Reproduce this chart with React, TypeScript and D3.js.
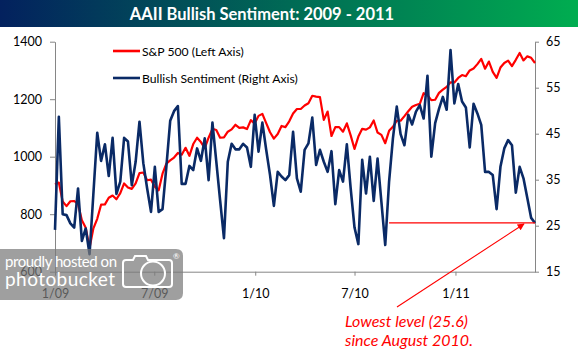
import { useEffect, useRef } from 'react';
import * as d3 from 'd3';

// weekly readings (Thursdays), first survey week of 2009 through late May 2011
const firstWeek = new Date(2009, 0, 1);

const spx = [
  903, 910, 844, 828, 845, 846, 835, 779, 753, 683,
  751, 784, 833, 834, 857, 865, 852, 873, 907, 893,
  888, 907, 943, 945, 918, 920, 896, 883, 941, 976,
  987, 997, 1013, 1007, 1031, 1003, 1044, 1066, 1051, 1030,
  1066, 1097, 1093, 1066, 1067, 1087, 1095, 1111, 1100, 1102,
  1096, 1127, 1115, 1142, 1149, 1117, 1085, 1063, 1079, 1107,
  1103, 1123, 1150, 1166, 1166, 1178, 1186, 1212, 1209, 1207,
  1128, 1157, 1072, 1103, 1103, 1087, 1116, 1074, 1027, 1070,
  1097, 1094, 1102, 1126, 1084, 1076, 1047, 1090, 1104, 1125,
  1125, 1141, 1158, 1174, 1180, 1184, 1221, 1214, 1197, 1198,
  1222, 1233, 1243, 1259, 1258, 1274, 1284, 1280, 1300, 1307,
  1322, 1340, 1306, 1331, 1295, 1274, 1310, 1326, 1334, 1315,
  1337, 1361, 1335, 1349, 1344, 1326,
];

const bullish = [
  24.1, 48.7, 27.5, 27.3, 25.5, 24.6, 33.1, 21.7, 24.4, 18.8,
  32.0, 45.2, 39.1, 42.7, 35.8, 44.1, 31.9, 34.6, 44.1, 43.3,
  33.8, 38.9, 47.6, 38.6, 33.1, 28.0, 37.8, 28.0, 28.6, 37.8,
  47.8, 49.9, 51.0, 34.1, 34.1, 38.0, 37.1, 41.8, 39.1, 44.0,
  34.9, 47.4, 39.0, 30.5, 22.3, 38.9, 42.8, 41.6, 41.6, 42.8,
  42.0, 37.8, 49.1, 41.1, 47.4, 41.5, 36.0, 29.3, 36.7, 35.7,
  34.9, 36.0, 45.4, 35.3, 32.4, 41.5, 42.9, 48.5, 38.2, 41.5,
  38.9, 36.7, 41.2, 29.7, 37.1, 34.6, 42.7, 33.1, 24.6, 21.0,
  39.3, 32.0, 40.0, 30.4, 39.6, 30.2, 20.8, 34.6, 44.0, 50.9,
  44.9, 42.5, 49.1, 47.0, 49.8, 51.2, 48.3, 57.6, 40.0, 47.3,
  50.4, 53.0, 50.2, 63.2, 51.6, 55.8, 52.0, 50.7, 42.0, 51.5,
  49.4, 46.9, 36.7, 36.7, 36.0, 28.6, 37.8, 41.8, 43.6, 42.5,
  32.2, 37.8, 35.3, 31.0, 26.7, 25.6,
];

const leftTicks = [600, 800, 1000, 1200, 1400];
const rightTicks = [15, 25, 35, 45, 55, 65];
const monthLabels = ['1/09', '7/09', '1/10', '7/10', '1/11'];
const title = 'AAII Bullish Sentiment: 2009 - 2011';
const legendNames = ['S&P 500 (Left Axis)', 'Bullish Sentiment (Right Axis)'];
const lowestLevel = 25.6;
const lowestSinceWeek = 87; // week index where the reference line starts
const noteLines = ['Lowest level (25.6)', 'since August 2010.'];

const W = 578;
const H = 354;
const FONT = 'Lato, "Open Sans", sans-serif';
const RED = '#ff0000';
const NAVY = '#0a2a66';
const AXIS = '#868686';

export default function App() {
  const ref = useRef<SVGSVGElement>(null);

  useEffect(() => {
    if (!ref.current) return;
    const svg = d3.select(ref.current);
    svg.selectAll('*').remove();

    const margin = { top: 41.7, right: 43, bottom: 82.3, left: 55 };
    const innerW = W - margin.left - margin.right;
    const innerH = H - margin.top - margin.bottom;

    const dates = spx.map((_, i) => d3.timeDay.offset(firstWeek, 7 * i));
    const x = d3.scaleTime().domain([dates[0], dates[dates.length - 1]]).range([0, innerW]);
    const yL = d3.scaleLinear().domain([600, 1400]).range([innerH, 0]);
    const yR = d3.scaleLinear().domain([15, 65]).range([innerH, 0]);

    // title banner
    const defs = svg.append('defs');
    const grad = defs.append('linearGradient').attr('id', 'banner').attr('x1', '0').attr('x2', '1');
    grad.append('stop').attr('offset', '0%').attr('stop-color', '#03215e');
    grad.append('stop').attr('offset', '50%').attr('stop-color', '#006a55');
    grad.append('stop').attr('offset', '100%').attr('stop-color', '#00ad50');
    svg.append('rect').attr('x', 0).attr('y', 0).attr('width', W).attr('height', 27).attr('fill', 'url(#banner)');
    svg.append('text')
      .attr('x', 262).attr('y', 20)
      .attr('text-anchor', 'middle')
      .attr('fill', '#fff')
      .attr('font-family', FONT)
      .attr('font-weight', 700)
      .attr('font-size', 16.5)
      .text(title);

    const g = svg.append('g').attr('transform', `translate(${margin.left},${margin.top})`);

    // axes
    const styleAxis = (sel: d3.Selection<SVGGElement, unknown, null, undefined>) => {
      sel.select('.domain').attr('stroke', AXIS);
      sel.selectAll('.tick line').attr('stroke', AXIS);
      sel.selectAll('.tick text').attr('fill', '#000').attr('font-family', FONT).attr('font-size', 12.5);
    };

    g.append('g')
      .call(d3.axisLeft(yL).tickValues(leftTicks).tickSize(5).tickSizeOuter(0).tickPadding(8).tickFormat(d3.format('d')))
      .call(styleAxis);

    g.append('g')
      .attr('transform', `translate(${innerW},0)`)
      .call(d3.axisRight(yR).tickValues(rightTicks).tickSize(4).tickSizeOuter(0).tickPadding(7))
      .call(styleAxis);

    const monthDates = monthLabels.map((s) => {
      const [m, yy] = s.split('/').map(Number);
      return new Date(2000 + yy, m - 1, 1);
    });
    g.append('g')
      .attr('transform', `translate(0,${innerH})`)
      .call(
        d3.axisBottom(x)
          .tickValues(monthDates)
          .tickSize(4)
          .tickSizeOuter(0)
          .tickFormat((_, i) => monthLabels[i])
      )
      .call(styleAxis)
      .selectAll('.tick text')
      .attr('y', 17)
      .attr('dy', '0.71em');

    // series
    const lineL = d3.line<number>().x((_, i) => x(dates[i])).y((d) => yL(d));
    const lineR = d3.line<number>().x((_, i) => x(dates[i])).y((d) => yR(d));

    g.append('path')
      .datum(spx)
      .attr('fill', 'none')
      .attr('stroke', RED)
      .attr('stroke-width', 2.2)
      .attr('stroke-linejoin', 'round')
      .attr('d', lineL);

    g.append('path')
      .datum(bullish)
      .attr('fill', 'none')
      .attr('stroke', NAVY)
      .attr('stroke-width', 2.6)
      .attr('stroke-linejoin', 'round')
      .attr('d', lineR);

    // legend
    const legend = svg.append('g').attr('font-family', FONT).attr('font-size', 12.2);
    [RED, NAVY].forEach((c, i) => {
      const ly = 51 + i * 27;
      legend.append('line').attr('x1', 113).attr('x2', 140).attr('y1', ly).attr('y2', ly)
        .attr('stroke', c).attr('stroke-width', 2.6);
      legend.append('text').attr('x', 142).attr('y', ly + 4.5).attr('fill', '#000').text(legendNames[i]);
    });

    // annotation
    const lowY = yR(lowestLevel);
    g.append('line')
      .attr('x1', x(dates[lowestSinceWeek])).attr('x2', innerW)
      .attr('y1', lowY).attr('y2', lowY)
      .attr('stroke', RED).attr('stroke-width', 1.3);

    defs.append('marker')
      .attr('id', 'arrow')
      .attr('viewBox', '0 0 10 10')
      .attr('refX', 9).attr('refY', 5)
      .attr('markerWidth', 7).attr('markerHeight', 7)
      .attr('markerUnits', 'userSpaceOnUse')
      .attr('orient', 'auto')
      .append('path').attr('d', 'M0,0L10,5L0,10z').attr('fill', RED);

    const lastX = x(dates[dates.length - 1]);
    svg.append('line')
      .attr('x1', 397).attr('y1', 307)
      .attr('x2', margin.left + lastX - 11).attr('y2', margin.top + lowY + 1)
      .attr('stroke', RED).attr('stroke-width', 1.1)
      .attr('marker-end', 'url(#arrow)');

    noteLines.forEach((t, i) => {
      svg.append('text')
        .attr('x', 345).attr('y', 327 + i * 18.5)
        .attr('fill', RED)
        .attr('font-family', FONT)
        .attr('font-style', 'italic')
        .attr('font-size', 16)
        .text(t);
    });

    // photobucket watermark over the bottom-left corner
    const wm = svg.append('g');
    wm.append('path')
      .attr('d', 'M0,249 H176 Q183,249 183,256 V293 Q183,300 176,300 H0 Z')
      .attr('fill', '#7a7a7a')
      .attr('fill-opacity', 0.72);
    wm.append('text')
      .attr('x', 5).attr('y', 267)
      .attr('fill', '#fff')
      .attr('font-family', FONT)
      .attr('font-size', 15)
      .attr('textLength', 112)
      .text('proudly hosted on');
    wm.append('text')
      .attr('x', 5).attr('y', 286)
      .attr('fill', '#fff')
      .attr('font-family', FONT)
      .attr('font-size', 19)
      .attr('textLength', 110)
      .text('photobucket');
    wm.append('path')
      .attr('d', 'M126,260 H133 L135,256 H146 L148,260 H169 Q172,260 172,263 V284 Q172,287 169,287 H126 Q123,287 123,284 V263 Q123,260 126,260 Z')
      .attr('fill', 'none').attr('stroke', '#fff').attr('stroke-width', 2);
    wm.append('circle').attr('cx', 153).attr('cy', 273.5).attr('r', 12)
      .attr('fill', 'none').attr('stroke', '#fff').attr('stroke-width', 2);
    wm.append('text').attr('x', 173).attr('y', 259).attr('fill', '#fff')
      .attr('font-family', FONT).attr('font-size', 8).text('®');
  }, []);

  return (
    <svg
      ref={ref}
      width={W}
      height={H}
      style={{ position: 'absolute', left: 0, top: 0, background: '#fff' }}
    />
  );
}
